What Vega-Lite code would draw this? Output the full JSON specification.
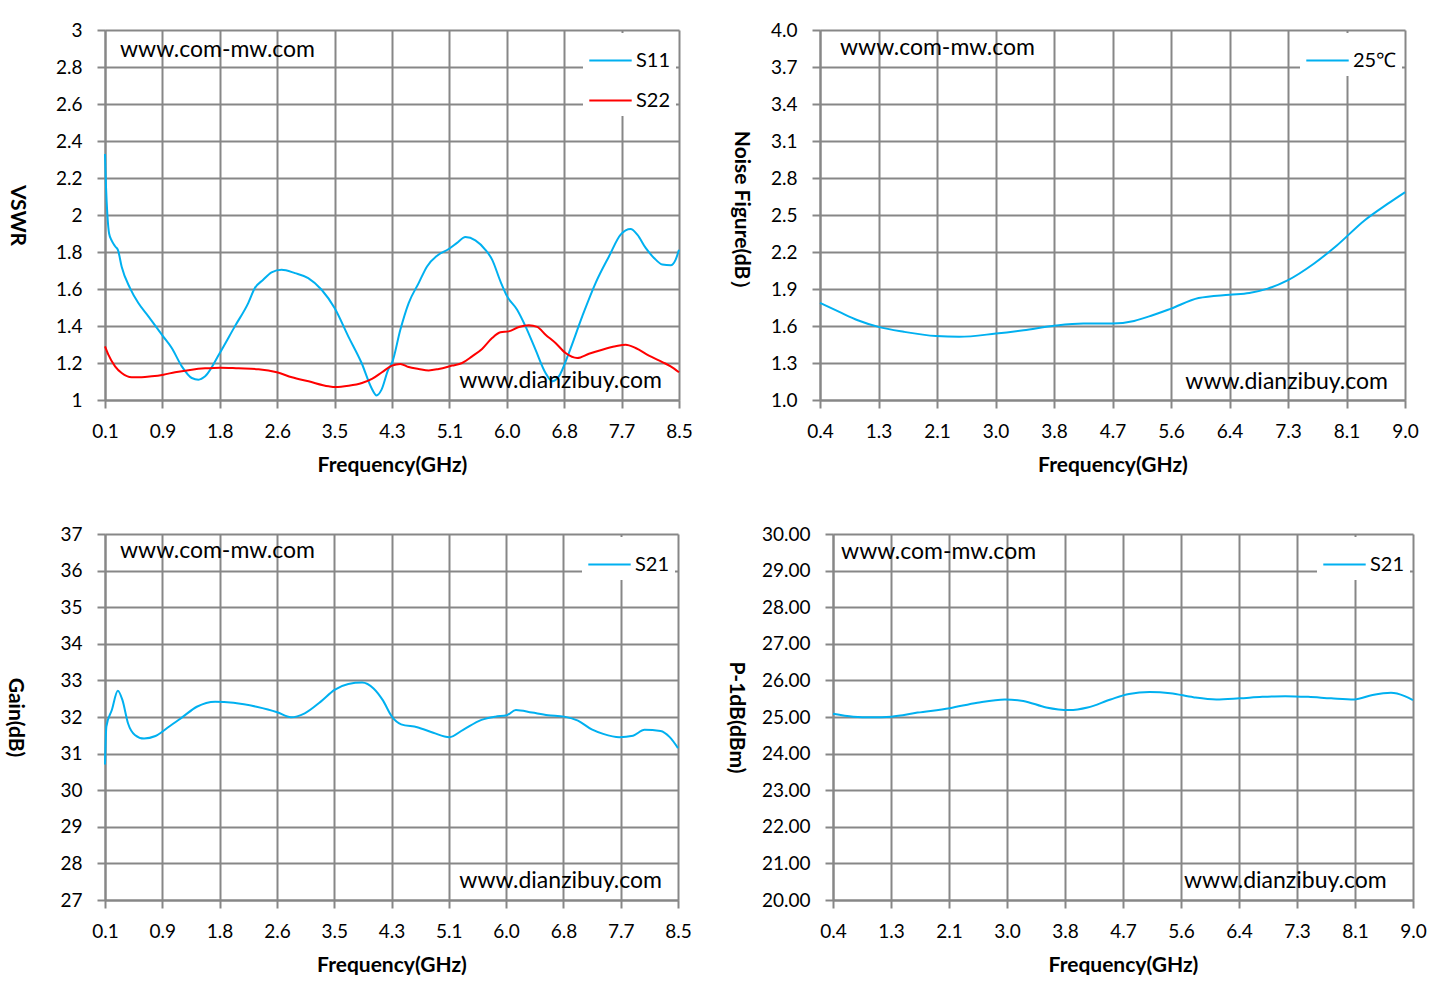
{
  "$schema": "https://vega.github.io/schema/vega-lite/v6.json",
  "padding": {"left": 4, "top": 21, "right": 0, "bottom": 0},
  "background": "white",
  "config": {
    "font": "Lato",
    "view": {"stroke": null},
    "axis": {
      "grid": true,
      "gridColor": "#878787",
      "gridWidth": 2,
      "gridOpacity": 1,
      "domainColor": "#878787",
      "domainWidth": 2,
      "tickColor": "#878787",
      "tickWidth": 2,
      "tickSize": 8,
      "tickCount": 30,
      "labelFont": "Lato",
      "labelFontSize": 19,
      "labelColor": "#000000",
      "labelFlush": false,
      "labelOverlap": false,
      "titleFont": "Lato",
      "titleFontSize": 21,
      "titleFontWeight": "bold",
      "titleColor": "#000000"
    },
    "axisY": {"titleAngle": 90, "titleBaseline": "top", "labelPadding": 15},
    "axisX": {"labelPadding": 14, "titlePadding": 13},
    "legend": {
      "orient": "top-right",
      "offset": 3,
      "fillColor": "white",
      "padding": 5,
      "symbolType": "stroke",
      "symbolSize": 1800,
      "symbolStrokeWidth": 2,
      "labelFont": "Lato",
      "labelFontSize": 20,
      "labelColor": "#000000",
      "labelOffset": 3,
      "rowPadding": 7,
      "title": null
    },
    "line": {"strokeWidth": 2, "interpolate": "monotone"},
    "text": {"font": "Lato", "fontSize": 23, "color": "#000000", "baseline": "middle"}
  },
  "datasets": {
    "vswr": [
      {"freq": 0.1, "vswr": 2.33, "trace": "S11"},
      {"freq": 0.115, "vswr": 2.15, "trace": "S11"},
      {"freq": 0.135, "vswr": 2.0, "trace": "S11"},
      {"freq": 0.16, "vswr": 1.9, "trace": "S11"},
      {"freq": 0.2, "vswr": 1.86, "trace": "S11"},
      {"freq": 0.25, "vswr": 1.83, "trace": "S11"},
      {"freq": 0.29, "vswr": 1.81, "trace": "S11"},
      {"freq": 0.344, "vswr": 1.72, "trace": "S11"},
      {"freq": 0.466, "vswr": 1.605, "trace": "S11"},
      {"freq": 0.588, "vswr": 1.524, "trace": "S11"},
      {"freq": 0.735, "vswr": 1.452, "trace": "S11"},
      {"freq": 0.95, "vswr": 1.344, "trace": "S11"},
      {"freq": 1.077, "vswr": 1.281, "trace": "S11"},
      {"freq": 1.224, "vswr": 1.182, "trace": "S11"},
      {"freq": 1.37, "vswr": 1.119, "trace": "S11"},
      {"freq": 1.468, "vswr": 1.11, "trace": "S11"},
      {"freq": 1.566, "vswr": 1.128, "trace": "S11"},
      {"freq": 1.78, "vswr": 1.254, "trace": "S11"},
      {"freq": 2.0, "vswr": 1.398, "trace": "S11"},
      {"freq": 2.196, "vswr": 1.524, "trace": "S11"},
      {"freq": 2.293, "vswr": 1.605, "trace": "S11"},
      {"freq": 2.415, "vswr": 1.65, "trace": "S11"},
      {"freq": 2.537, "vswr": 1.69, "trace": "S11"},
      {"freq": 2.684, "vswr": 1.704, "trace": "S11"},
      {"freq": 2.879, "vswr": 1.686, "trace": "S11"},
      {"freq": 3.074, "vswr": 1.659, "trace": "S11"},
      {"freq": 3.27, "vswr": 1.596, "trace": "S11"},
      {"freq": 3.46, "vswr": 1.497, "trace": "S11"},
      {"freq": 3.66, "vswr": 1.344, "trace": "S11"},
      {"freq": 3.855, "vswr": 1.2, "trace": "S11"},
      {"freq": 4.0, "vswr": 1.065, "trace": "S11"},
      {"freq": 4.074, "vswr": 1.025, "trace": "S11"},
      {"freq": 4.147, "vswr": 1.056, "trace": "S11"},
      {"freq": 4.245, "vswr": 1.164, "trace": "S11"},
      {"freq": 4.3, "vswr": 1.2, "trace": "S11"},
      {"freq": 4.422, "vswr": 1.38, "trace": "S11"},
      {"freq": 4.544, "vswr": 1.524, "trace": "S11"},
      {"freq": 4.69, "vswr": 1.632, "trace": "S11"},
      {"freq": 4.813, "vswr": 1.722, "trace": "S11"},
      {"freq": 4.96, "vswr": 1.78, "trace": "S11"},
      {"freq": 5.13, "vswr": 1.816, "trace": "S11"},
      {"freq": 5.252, "vswr": 1.849, "trace": "S11"},
      {"freq": 5.374, "vswr": 1.881, "trace": "S11"},
      {"freq": 5.52, "vswr": 1.863, "trace": "S11"},
      {"freq": 5.667, "vswr": 1.812, "trace": "S11"},
      {"freq": 5.765, "vswr": 1.759, "trace": "S11"},
      {"freq": 5.887, "vswr": 1.641, "trace": "S11"},
      {"freq": 5.985, "vswr": 1.56, "trace": "S11"},
      {"freq": 6.131, "vswr": 1.488, "trace": "S11"},
      {"freq": 6.254, "vswr": 1.398, "trace": "S11"},
      {"freq": 6.4, "vswr": 1.272, "trace": "S11"},
      {"freq": 6.547, "vswr": 1.146, "trace": "S11"},
      {"freq": 6.644, "vswr": 1.101, "trace": "S11"},
      {"freq": 6.742, "vswr": 1.128, "trace": "S11"},
      {"freq": 6.888, "vswr": 1.254, "trace": "S11"},
      {"freq": 7.084, "vswr": 1.452, "trace": "S11"},
      {"freq": 7.279, "vswr": 1.632, "trace": "S11"},
      {"freq": 7.475, "vswr": 1.776, "trace": "S11"},
      {"freq": 7.646, "vswr": 1.894, "trace": "S11"},
      {"freq": 7.792, "vswr": 1.924, "trace": "S11"},
      {"freq": 7.89, "vswr": 1.894, "trace": "S11"},
      {"freq": 8.012, "vswr": 1.822, "trace": "S11"},
      {"freq": 8.134, "vswr": 1.768, "trace": "S11"},
      {"freq": 8.256, "vswr": 1.732, "trace": "S11"},
      {"freq": 8.378, "vswr": 1.728, "trace": "S11"},
      {"freq": 8.451, "vswr": 1.759, "trace": "S11"},
      {"freq": 8.5, "vswr": 1.812, "trace": "S11"},
      {"freq": 0.1, "vswr": 1.29, "trace": "S22"},
      {"freq": 0.149, "vswr": 1.245, "trace": "S22"},
      {"freq": 0.247, "vswr": 1.182, "trace": "S22"},
      {"freq": 0.344, "vswr": 1.146, "trace": "S22"},
      {"freq": 0.49, "vswr": 1.123, "trace": "S22"},
      {"freq": 0.637, "vswr": 1.123, "trace": "S22"},
      {"freq": 0.784, "vswr": 1.128, "trace": "S22"},
      {"freq": 0.955, "vswr": 1.137, "trace": "S22"},
      {"freq": 1.125, "vswr": 1.15, "trace": "S22"},
      {"freq": 1.37, "vswr": 1.164, "trace": "S22"},
      {"freq": 1.565, "vswr": 1.171, "trace": "S22"},
      {"freq": 1.785, "vswr": 1.175, "trace": "S22"},
      {"freq": 2.053, "vswr": 1.171, "trace": "S22"},
      {"freq": 2.346, "vswr": 1.166, "trace": "S22"},
      {"freq": 2.615, "vswr": 1.15, "trace": "S22"},
      {"freq": 2.835, "vswr": 1.123, "trace": "S22"},
      {"freq": 3.079, "vswr": 1.101, "trace": "S22"},
      {"freq": 3.372, "vswr": 1.074, "trace": "S22"},
      {"freq": 3.47, "vswr": 1.07, "trace": "S22"},
      {"freq": 3.665, "vswr": 1.077, "trace": "S22"},
      {"freq": 3.86, "vswr": 1.092, "trace": "S22"},
      {"freq": 4.007, "vswr": 1.114, "trace": "S22"},
      {"freq": 4.153, "vswr": 1.15, "trace": "S22"},
      {"freq": 4.3, "vswr": 1.186, "trace": "S22"},
      {"freq": 4.422, "vswr": 1.195, "trace": "S22"},
      {"freq": 4.544, "vswr": 1.178, "trace": "S22"},
      {"freq": 4.69, "vswr": 1.168, "trace": "S22"},
      {"freq": 4.837, "vswr": 1.16, "trace": "S22"},
      {"freq": 4.984, "vswr": 1.168, "trace": "S22"},
      {"freq": 5.179, "vswr": 1.186, "trace": "S22"},
      {"freq": 5.326, "vswr": 1.2, "trace": "S22"},
      {"freq": 5.472, "vswr": 1.236, "trace": "S22"},
      {"freq": 5.618, "vswr": 1.276, "trace": "S22"},
      {"freq": 5.765, "vswr": 1.335, "trace": "S22"},
      {"freq": 5.887, "vswr": 1.366, "trace": "S22"},
      {"freq": 6.009, "vswr": 1.371, "trace": "S22"},
      {"freq": 6.156, "vswr": 1.395, "trace": "S22"},
      {"freq": 6.303, "vswr": 1.404, "trace": "S22"},
      {"freq": 6.425, "vswr": 1.395, "trace": "S22"},
      {"freq": 6.547, "vswr": 1.353, "trace": "S22"},
      {"freq": 6.693, "vswr": 1.308, "trace": "S22"},
      {"freq": 6.84, "vswr": 1.254, "trace": "S22"},
      {"freq": 7.011, "vswr": 1.227, "trace": "S22"},
      {"freq": 7.182, "vswr": 1.25, "trace": "S22"},
      {"freq": 7.377, "vswr": 1.272, "trace": "S22"},
      {"freq": 7.572, "vswr": 1.29, "trace": "S22"},
      {"freq": 7.719, "vswr": 1.299, "trace": "S22"},
      {"freq": 7.865, "vswr": 1.281, "trace": "S22"},
      {"freq": 8.06, "vswr": 1.24, "trace": "S22"},
      {"freq": 8.256, "vswr": 1.205, "trace": "S22"},
      {"freq": 8.378, "vswr": 1.182, "trace": "S22"},
      {"freq": 8.5, "vswr": 1.15, "trace": "S22"}
    ],
    "noise": [
      {"freq": 0.4, "nf": 1.787, "trace": "25℃"},
      {"freq": 0.684, "nf": 1.714, "trace": "25℃"},
      {"freq": 0.955, "nf": 1.647, "trace": "25℃"},
      {"freq": 1.26, "nf": 1.593, "trace": "25℃"},
      {"freq": 1.632, "nf": 1.553, "trace": "25℃"},
      {"freq": 2.106, "nf": 1.518, "trace": "25℃"},
      {"freq": 2.445, "nf": 1.512, "trace": "25℃"},
      {"freq": 2.987, "nf": 1.539, "trace": "25℃"},
      {"freq": 3.393, "nf": 1.566, "trace": "25℃"},
      {"freq": 3.867, "nf": 1.604, "trace": "25℃"},
      {"freq": 4.273, "nf": 1.62, "trace": "25℃"},
      {"freq": 4.7, "nf": 1.62, "trace": "25℃"},
      {"freq": 5.018, "nf": 1.641, "trace": "25℃"},
      {"freq": 5.289, "nf": 1.687, "trace": "25℃"},
      {"freq": 5.56, "nf": 1.741, "trace": "25℃"},
      {"freq": 5.966, "nf": 1.827, "trace": "25℃"},
      {"freq": 6.42, "nf": 1.854, "trace": "25℃"},
      {"freq": 6.711, "nf": 1.868, "trace": "25℃"},
      {"freq": 6.982, "nf": 1.903, "trace": "25℃"},
      {"freq": 7.273, "nf": 1.97, "trace": "25℃"},
      {"freq": 7.659, "nf": 2.105, "trace": "25℃"},
      {"freq": 7.998, "nf": 2.253, "trace": "25℃"},
      {"freq": 8.404, "nf": 2.456, "trace": "25℃"},
      {"freq": 8.743, "nf": 2.59, "trace": "25℃"},
      {"freq": 9.0, "nf": 2.685, "trace": "25℃"}
    ],
    "gain": [
      {"freq": 0.1, "gain": 30.7, "trace": "S21"},
      {"freq": 0.12, "gain": 31.74, "trace": "S21"},
      {"freq": 0.2, "gain": 32.19, "trace": "S21"},
      {"freq": 0.288, "gain": 32.72, "trace": "S21"},
      {"freq": 0.356, "gain": 32.46, "trace": "S21"},
      {"freq": 0.437, "gain": 31.83, "trace": "S21"},
      {"freq": 0.538, "gain": 31.51, "trace": "S21"},
      {"freq": 0.672, "gain": 31.41, "trace": "S21"},
      {"freq": 0.84, "gain": 31.48, "trace": "S21"},
      {"freq": 1.042, "gain": 31.74, "trace": "S21"},
      {"freq": 1.244, "gain": 32.01, "trace": "S21"},
      {"freq": 1.446, "gain": 32.28, "trace": "S21"},
      {"freq": 1.715, "gain": 32.42, "trace": "S21"},
      {"freq": 1.985, "gain": 32.39, "trace": "S21"},
      {"freq": 2.321, "gain": 32.28, "trace": "S21"},
      {"freq": 2.624, "gain": 32.13, "trace": "S21"},
      {"freq": 2.826, "gain": 31.99, "trace": "S21"},
      {"freq": 3.028, "gain": 32.1, "trace": "S21"},
      {"freq": 3.263, "gain": 32.42, "trace": "S21"},
      {"freq": 3.465, "gain": 32.74, "trace": "S21"},
      {"freq": 3.667, "gain": 32.9, "trace": "S21"},
      {"freq": 3.869, "gain": 32.94, "trace": "S21"},
      {"freq": 4.037, "gain": 32.78, "trace": "S21"},
      {"freq": 4.172, "gain": 32.46, "trace": "S21"},
      {"freq": 4.306, "gain": 32.01, "trace": "S21"},
      {"freq": 4.441, "gain": 31.8, "trace": "S21"},
      {"freq": 4.677, "gain": 31.72, "trace": "S21"},
      {"freq": 4.912, "gain": 31.57, "trace": "S21"},
      {"freq": 5.148, "gain": 31.45, "trace": "S21"},
      {"freq": 5.35, "gain": 31.65, "trace": "S21"},
      {"freq": 5.619, "gain": 31.92, "trace": "S21"},
      {"freq": 5.821, "gain": 32.01, "trace": "S21"},
      {"freq": 5.99, "gain": 32.05, "trace": "S21"},
      {"freq": 6.124, "gain": 32.19, "trace": "S21"},
      {"freq": 6.36, "gain": 32.12, "trace": "S21"},
      {"freq": 6.595, "gain": 32.05, "trace": "S21"},
      {"freq": 6.831, "gain": 32.01, "trace": "S21"},
      {"freq": 7.033, "gain": 31.9, "trace": "S21"},
      {"freq": 7.235, "gain": 31.66, "trace": "S21"},
      {"freq": 7.403, "gain": 31.54, "trace": "S21"},
      {"freq": 7.639, "gain": 31.45, "trace": "S21"},
      {"freq": 7.841, "gain": 31.49, "trace": "S21"},
      {"freq": 8.009, "gain": 31.65, "trace": "S21"},
      {"freq": 8.244, "gain": 31.62, "trace": "S21"},
      {"freq": 8.379, "gain": 31.45, "trace": "S21"},
      {"freq": 8.5, "gain": 31.15, "trace": "S21"}
    ],
    "p1db": [
      {"freq": 0.4, "p1db": 25.09, "trace": "S21"},
      {"freq": 0.7, "p1db": 25.01, "trace": "S21"},
      {"freq": 0.972, "p1db": 24.99, "trace": "S21"},
      {"freq": 1.265, "p1db": 25.01, "trace": "S21"},
      {"freq": 1.654, "p1db": 25.12, "trace": "S21"},
      {"freq": 2.131, "p1db": 25.24, "trace": "S21"},
      {"freq": 2.54, "p1db": 25.39, "trace": "S21"},
      {"freq": 2.949, "p1db": 25.48, "trace": "S21"},
      {"freq": 3.221, "p1db": 25.44, "trace": "S21"},
      {"freq": 3.562, "p1db": 25.26, "trace": "S21"},
      {"freq": 3.903, "p1db": 25.19, "trace": "S21"},
      {"freq": 4.175, "p1db": 25.26, "trace": "S21"},
      {"freq": 4.516, "p1db": 25.48, "trace": "S21"},
      {"freq": 4.789, "p1db": 25.63, "trace": "S21"},
      {"freq": 5.095, "p1db": 25.68, "trace": "S21"},
      {"freq": 5.402, "p1db": 25.65, "trace": "S21"},
      {"freq": 5.743, "p1db": 25.54, "trace": "S21"},
      {"freq": 6.083, "p1db": 25.48, "trace": "S21"},
      {"freq": 6.424, "p1db": 25.51, "trace": "S21"},
      {"freq": 6.765, "p1db": 25.55, "trace": "S21"},
      {"freq": 7.106, "p1db": 25.57, "trace": "S21"},
      {"freq": 7.446, "p1db": 25.55, "trace": "S21"},
      {"freq": 7.787, "p1db": 25.51, "trace": "S21"},
      {"freq": 8.128, "p1db": 25.48, "trace": "S21"},
      {"freq": 8.4, "p1db": 25.6, "trace": "S21"},
      {"freq": 8.673, "p1db": 25.66, "trace": "S21"},
      {"freq": 8.877, "p1db": 25.57, "trace": "S21"},
      {"freq": 9.0, "p1db": 25.46, "trace": "S21"}
    ]
  },
  "resolve": {"scale": {"color": "independent"}, "legend": {"color": "independent"}},
  "spacing": 50,
  "vconcat": [
    {
      "hconcat": [
        {
          "width": 574,
          "height": 370,
          "layer": [
            {
              "data": {"name": "vswr"},
              "mark": "line",
              "encoding": {
                "x": {"field": "freq", "type": "quantitative", "scale": {"domain": [0.1, 8.5], "nice": false, "zero": false},
                  "axis": {"title": "Frequency(GHz)", "format": ".1f", "values": [0.1, 0.94, 1.78, 2.62, 3.46, 4.3, 5.14, 5.98, 6.82, 7.66, 8.5]}},
                "y": {"field": "vswr", "type": "quantitative", "scale": {"domain": [1, 3], "nice": false, "zero": false},
                  "axis": {"title": "VSWR", "format": "~g", "tickCount": 30, "values": [1, 1.2, 1.4, 1.6, 1.8, 2, 2.2, 2.4, 2.6, 2.8, 3], "titlePadding": 28}},
                "color": {"field": "trace", "type": "nominal", "scale": {"domain": ["S11", "S22"], "range": ["#00B0F0", "#FF0000"]}}
              }
            },
            {
              "data": {"values": [{}]},
              "mark": {"type": "text", "align": "left"},
              "encoding": {"x": {"datum": 0.32}, "y": {"datum": 2.894}, "text": {"value": "www.com-mw.com"}}
            },
            {
              "data": {"values": [{}]},
              "mark": {"type": "text", "align": "right"},
              "encoding": {"x": {"datum": 8.25}, "y": {"datum": 1.104}, "text": {"value": "www.dianzibuy.com"}}
            }
          ]
        },
        {
          "width": 585,
          "height": 370,
          "layer": [
            {
              "data": {"name": "noise"},
              "mark": "line",
              "encoding": {
                "x": {"field": "freq", "type": "quantitative", "scale": {"domain": [0.4, 9.0], "nice": false, "zero": false},
                  "axis": {"title": "Frequency(GHz)", "format": ".1f", "values": [0.4, 1.26, 2.12, 2.98, 3.84, 4.7, 5.56, 6.42, 7.28, 8.14, 9.0]}},
                "y": {"field": "nf", "type": "quantitative", "scale": {"domain": [1, 4], "nice": false, "zero": false},
                  "axis": {"title": "Noise Figure(dB）", "format": ".1f", "tickCount": 30, "values": [1, 1.3, 1.6, 1.9, 2.2, 2.5, 2.8, 3.1, 3.4, 3.7, 4], "titlePadding": 19}},
                "color": {"field": "trace", "type": "nominal", "scale": {"domain": ["25℃"], "range": ["#00B0F0"]}}
              }
            },
            {
              "data": {"values": [{}]},
              "mark": {"type": "text", "align": "left"},
              "encoding": {"x": {"datum": 0.694}, "y": {"datum": 3.854}, "text": {"value": "www.com-mw.com"}}
            },
            {
              "data": {"values": [{}]},
              "mark": {"type": "text", "align": "right"},
              "encoding": {"x": {"datum": 8.75}, "y": {"datum": 1.146}, "text": {"value": "www.dianzibuy.com"}}
            }
          ]
        }
      ],
      "spacing": 37,
      "resolve": {"scale": {"color": "independent"}, "legend": {"color": "independent"}}
    },
    {
      "hconcat": [
        {
          "width": 573,
          "height": 366,
          "layer": [
            {
              "data": {"name": "gain"},
              "mark": "line",
              "encoding": {
                "x": {"field": "freq", "type": "quantitative", "scale": {"domain": [0.1, 8.5], "nice": false, "zero": false},
                  "axis": {"title": "Frequency(GHz)", "format": ".1f", "values": [0.1, 0.94, 1.78, 2.62, 3.46, 4.3, 5.14, 5.98, 6.82, 7.66, 8.5]}},
                "y": {"field": "gain", "type": "quantitative", "scale": {"domain": [27, 37], "nice": false, "zero": false},
                  "axis": {"title": "Gain(dB)", "format": "d", "tickCount": 30, "values": [27, 28, 29, 30, 31, 32, 33, 34, 35, 36, 37], "titlePadding": 34}},
                "color": {"field": "trace", "type": "nominal", "scale": {"domain": ["S21"], "range": ["#00B0F0"]}}
              }
            },
            {
              "data": {"values": [{}]},
              "mark": {"type": "text", "align": "left"},
              "encoding": {"x": {"datum": 0.32}, "y": {"datum": 36.54}, "text": {"value": "www.com-mw.com"}}
            },
            {
              "data": {"values": [{}]},
              "mark": {"type": "text", "align": "right"},
              "encoding": {"x": {"datum": 8.265}, "y": {"datum": 27.52}, "text": {"value": "www.dianzibuy.com"}}
            }
          ]
        },
        {
          "width": 580,
          "height": 366,
          "layer": [
            {
              "data": {"name": "p1db"},
              "mark": "line",
              "encoding": {
                "x": {"field": "freq", "type": "quantitative", "scale": {"domain": [0.4, 9.0], "nice": false, "zero": false},
                  "axis": {"title": "Frequency(GHz)", "format": ".1f", "values": [0.4, 1.26, 2.12, 2.98, 3.84, 4.7, 5.56, 6.42, 7.28, 8.14, 9.0]}},
                "y": {"field": "p1db", "type": "quantitative", "scale": {"domain": [20, 30], "nice": false, "zero": false},
                  "axis": {"title": "P-1dB(dBm)", "format": ".2f", "tickCount": 30, "values": [20, 21, 22, 23, 24, 25, 26, 27, 28, 29, 30], "titlePadding": 15}},
                "color": {"field": "trace", "type": "nominal", "scale": {"domain": ["S21"], "range": ["#00B0F0"]}}
              }
            },
            {
              "data": {"values": [{}]},
              "mark": {"type": "text", "align": "left"},
              "encoding": {"x": {"datum": 0.52}, "y": {"datum": 29.51}, "text": {"value": "www.com-mw.com"}}
            },
            {
              "data": {"values": [{}]},
              "mark": {"type": "text", "align": "right"},
              "encoding": {"x": {"datum": 8.61}, "y": {"datum": 20.52}, "text": {"value": "www.dianzibuy.com"}}
            }
          ]
        }
      ],
      "spacing": 33,
      "resolve": {"scale": {"color": "independent"}, "legend": {"color": "independent"}}
    }
  ]
}
